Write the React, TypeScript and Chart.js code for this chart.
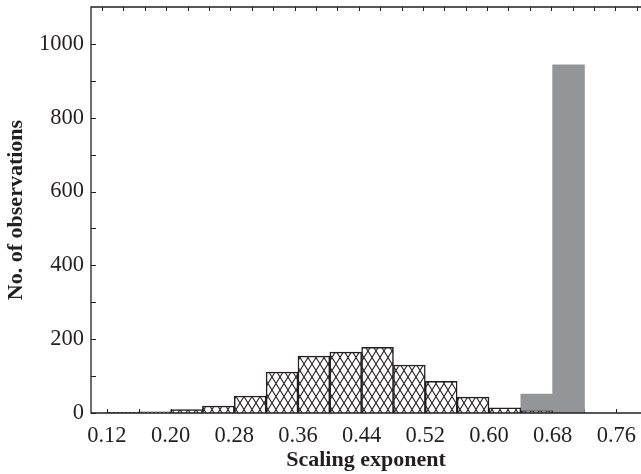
import React, { useEffect, useRef } from "react";
import { Chart, registerables } from "chart.js";

Chart.register(...registerables);

// Histogram bins (centres of 0.04-wide bins)
const hatchedBins = [0.14, 0.18, 0.22, 0.26, 0.30, 0.34, 0.38, 0.42, 0.46, 0.50, 0.54, 0.58, 0.62, 0.66];
const hatchedCounts = [2, 3, 9, 19, 46, 111, 154, 165, 178, 130, 86, 43, 14, 6];
const grayBins = [0.66, 0.70];
const grayCounts = [51, 943];

const xTickValues = [0.12, 0.16, 0.20, 0.24, 0.28, 0.32, 0.36, 0.40, 0.44, 0.48, 0.52, 0.56, 0.60, 0.64, 0.68, 0.72, 0.76];
const xTickLabels = ["0.12", "0.20", "0.28", "0.36", "0.44", "0.52", "0.60", "0.68", "0.76"];
const yTickValues = [0, 200, 400, 600, 800, 1000];
const yMinorTicks = [0, 100, 200, 300, 400, 500, 600, 700, 800, 900, 1000];

const X_MIN = 0.10;
const X_MAX = 0.791;
const Y_MAX = 1100;
const TOP_TICK_START = 0.1138;
const TOP_TICK_STEP = 0.02688;

const INK = "#231f20";
const GRAY = "#939598";
const SERIF = "'Liberation Serif', 'Times New Roman', serif";

function makeHatch(): CanvasPattern | string {
  const c = document.createElement("canvas");
  c.width = 8;
  c.height = 13;
  const g = c.getContext("2d");
  if (!g) return "#fff";
  g.fillStyle = "#ffffff";
  g.fillRect(0, 0, 8, 13);
  g.strokeStyle = INK;
  g.lineWidth = 1.1;
  g.beginPath();
  g.moveTo(0, 0);
  g.lineTo(8, 13);
  g.moveTo(8, 0);
  g.lineTo(0, 13);
  g.stroke();
  const p = g.createPattern(c, "repeat");
  return p || "#fff";
}

const framePlugin = {
  id: "frame",
  beforeDatasetsDraw(chart: any) {
    const { ctx, chartArea, scales } = chart;
    const { left, right, top, bottom } = chartArea;
    const x = scales.x;
    const y = scales.y;
    ctx.save();
    ctx.strokeStyle = INK;
    ctx.lineWidth = 1;
    ctx.beginPath();
    xTickValues.forEach((v) => {
      const px = Math.round(x.getPixelForValue(v)) + 0.5;
      ctx.moveTo(px, bottom);
      ctx.lineTo(px, bottom - 4);
    });
    yMinorTicks.forEach((v) => {
      const py = Math.round(y.getPixelForValue(v)) + 0.5;
      ctx.moveTo(left, py);
      ctx.lineTo(left + 5, py);
    });
    for (let v = TOP_TICK_START; v < X_MAX; v += TOP_TICK_STEP) {
      const px = Math.round(x.getPixelForValue(v)) + 0.5;
      if (px > right) break;
      ctx.moveTo(px, top);
      ctx.lineTo(px, top + 4);
    }
    ctx.stroke();
    ctx.restore();
  },
  afterDatasetsDraw(chart: any) {
    const { ctx, chartArea } = chart;
    const { left, right, top, bottom } = chartArea;
    ctx.save();
    ctx.strokeStyle = INK;
    ctx.lineWidth = 1.3;
    ctx.beginPath();
    ctx.moveTo(right, top);
    ctx.lineTo(left, top);
    ctx.lineTo(left, bottom);
    ctx.lineTo(right, bottom);
    ctx.stroke();
    ctx.restore();
  },
};

export default function App() {
  const ref = useRef<HTMLCanvasElement | null>(null);

  useEffect(() => {
    document.body.style.margin = "0";
    const canvas = ref.current;
    if (!canvas) return;
    const hatch = makeHatch();
    const chart = new Chart(canvas, {
      type: "bar",
      data: {
        datasets: [
          {
            label: "hatched",
            data: hatchedBins.map((b, i) => ({ x: b, y: hatchedCounts[i] })),
            backgroundColor: hatch as any,
            borderColor: INK,
            borderWidth: 1.5,
            barPercentage: 1,
            categoryPercentage: 1,
            grouped: false,
          },
          {
            label: "gray",
            data: grayBins.map((b, i) => ({ x: b, y: grayCounts[i] })),
            backgroundColor: GRAY,
            borderWidth: 0,
            barPercentage: 1,
            categoryPercentage: 1,
            grouped: false,
          },
        ],
      },
      options: {
        animation: false,
        responsive: false,
        devicePixelRatio: 1,
        layout: { padding: { top: 7, right: 0, left: 0, bottom: 0 } },
        plugins: {
          legend: { display: false },
          tooltip: { enabled: false },
        },
        scales: {
          x: {
            type: "linear",
            min: X_MIN,
            max: X_MAX,
            offset: false,
            grid: { display: false, drawTicks: false },
            border: { display: false },
            afterBuildTicks: (scale: any) => {
              scale.ticks = xTickValues.map((v) => ({ value: v }));
            },
            afterFit: (scale: any) => {
              scale.height = 61;
              scale.paddingLeft = 0;
              scale.paddingRight = 0;
            },
            ticks: {
              autoSkip: false,
              maxRotation: 0,
              padding: 10,
              color: INK,
              font: { family: SERIF, size: 22.5 },
              callback: (value: any) => {
                const s = Number(value).toFixed(2);
                return xTickLabels.includes(s) ? s : "";
              },
            },
            title: {
              display: true,
              text: "Scaling exponent",
              color: INK,
              font: { family: SERIF, size: 22, weight: "bold" },
              padding: { top: 0, bottom: 0 },
            },
          },
          y: {
            type: "linear",
            min: 0,
            max: Y_MAX,
            grid: { display: false, drawTicks: false },
            border: { display: false },
            afterBuildTicks: (scale: any) => {
              scale.ticks = yTickValues.map((v) => ({ value: v }));
            },
            afterFit: (scale: any) => {
              scale.width = 91;
              scale.paddingTop = 0;
              scale.paddingBottom = 0;
            },
            ticks: {
              padding: 7,
              color: INK,
              font: { family: SERIF, size: 22.5 },
              callback: (value: any) => String(value),
            },
            title: {
              display: true,
              text: "No. of observations",
              color: INK,
              font: { family: SERIF, size: 22, weight: "bold" },
              padding: { top: 3, bottom: 0 },
            },
          },
        },
      },
      plugins: [framePlugin],
    });
    return () => chart.destroy();
  }, []);

  return (
    <div style={{ width: 641, height: 474 }}>
      <canvas ref={ref} width={641} height={474} style={{ display: "block" }} />
    </div>
  );
}
